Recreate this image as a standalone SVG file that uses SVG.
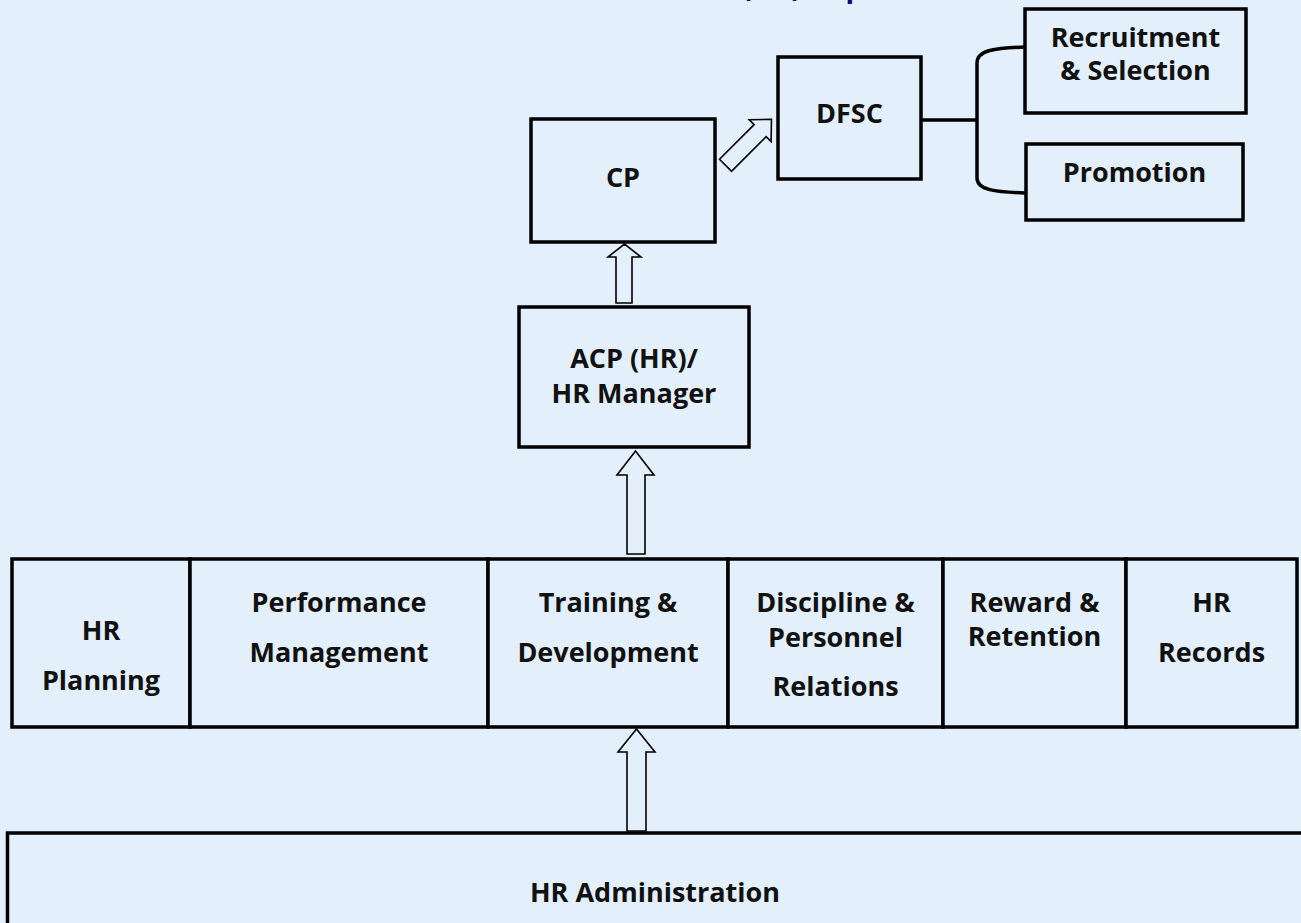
<svg xmlns="http://www.w3.org/2000/svg" width="1301" height="923" viewBox="0 0 1301 923">
<defs>
<style>
.box{fill:#E3EFFB;stroke:#000;stroke-width:3.5}
.t{font-family:"Open Sans","Noto Sans","DejaVu Sans",sans-serif;font-weight:bold;font-size:27px;fill:#111;text-anchor:middle}
.conn{fill:none;stroke:#000;stroke-width:3.5}
.arr{fill:#E3EFFB;stroke:#000;stroke-width:1.6;stroke-linejoin:miter}
.title{font-family:"Open Sans","Noto Sans","DejaVu Sans",sans-serif;font-weight:bold;font-size:28px;fill:#0A0A78}
</style>
</defs>
<rect x="0" y="0" width="1301" height="923" fill="#E3EFFB"/>
<text class="title" x="742" y="-3.5">(HR) Department</text>

<g id="connectors">
<path class="conn" d="M921,120 L977,120"/>
<path class="conn" d="M1025,47 C995,48 977,50 977,63 L977,178 C977,190 995,192 1025,193"/>
<polygon class="arr" points="616,303 632,303 632,257 641,257 624.5,244 608,257 616,257"/>
<polygon class="arr" points="627,554 645,554 645,475 654,475 635.5,451 617,475 627,475"/>
<polygon class="arr" points="627,831 646,831 646,752 655,752 636.5,729 618,752 627,752"/>
<polygon class="arr" transform="translate(725.5,165.3) rotate(-45)" points="0,-8.5 49,-8.5 49,-15.5 65,0 49,15.5 49,8.5 0,8.5"/>
</g>

<g id="cp">
<rect class="box" x="531" y="119" width="184" height="123"/>
<text class="t" x="623" y="187">CP</text>
</g>
<g id="dfsc">
<rect class="box" x="778" y="57" width="143" height="122"/>
<text class="t" x="849.5" y="123">DFSC</text>
</g>
<g id="recruitment">
<rect class="box" x="1025" y="9" width="221" height="104"/>
<text class="t" x="1135.5" y="47">Recruitment</text>
<text class="t" x="1135.5" y="80">&amp; Selection</text>
</g>
<g id="promotion">
<rect class="box" x="1026" y="144" width="217" height="76"/>
<text class="t" x="1134.5" y="182">Promotion</text>
</g>
<g id="acp">
<rect class="box" x="519" y="307" width="230" height="140"/>
<text class="t" x="634" y="368">ACP (HR)/</text>
<text class="t" x="634" y="403">HR Manager</text>
</g>

<g id="hr-planning">
<rect class="box" x="12" y="559" width="178" height="168"/>
<text class="t" x="101" y="640">HR</text>
<text class="t" x="101" y="690">Planning</text>
</g>
<g id="performance-management">
<rect class="box" x="190" y="559" width="298" height="168"/>
<text class="t" x="339" y="612">Performance</text>
<text class="t" x="339" y="662">Management</text>
</g>
<g id="training-development">
<rect class="box" x="488" y="559" width="240" height="168"/>
<text class="t" x="608" y="612">Training &amp;</text>
<text class="t" x="608" y="662">Development</text>
</g>
<g id="discipline">
<rect class="box" x="728" y="559" width="215" height="168"/>
<text class="t" x="835.5" y="612">Discipline &amp;</text>
<text class="t" x="835.5" y="647">Personnel</text>
<text class="t" x="835.5" y="696">Relations</text>
</g>
<g id="reward-retention">
<rect class="box" x="943" y="559" width="183" height="168"/>
<text class="t" x="1034.5" y="612">Reward &amp;</text>
<text class="t" x="1034.5" y="646">Retention</text>
</g>
<g id="hr-records">
<rect class="box" x="1126" y="559" width="171" height="168"/>
<text class="t" x="1211.5" y="612">HR</text>
<text class="t" x="1211.5" y="662">Records</text>
</g>

<g id="hr-administration">
<rect class="box" x="7.5" y="833" width="1320" height="120"/>
<text class="t" x="655" y="902">HR Administration</text>
</g>
</svg>
